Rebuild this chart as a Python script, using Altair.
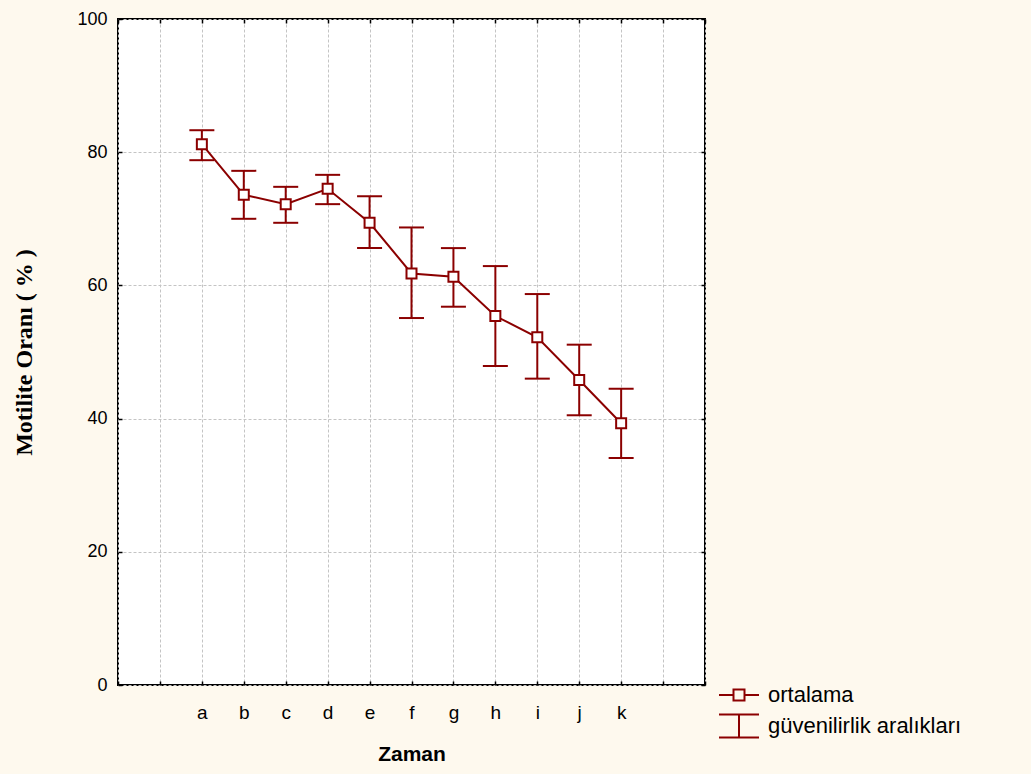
import json
import altair as alt
import pandas as pd

# ---- data ----
categories = ["a", "b", "c", "d", "e", "f", "g", "h", "i", "j", "k"]
means = [81.2, 73.6, 72.2, 74.5, 69.4, 61.8, 61.3, 55.4, 52.2, 45.8, 39.3]
upper = [83.3, 77.2, 74.8, 76.6, 73.4, 68.7, 65.6, 62.9, 58.7, 51.1, 44.5]
lower = [78.8, 70.0, 69.4, 72.2, 65.6, 55.1, 56.8, 47.9, 46.0, 40.5, 34.1]
legend_labels = ["ortalama", "güvenilirlik aralıkları"]
y_ticks = [0, 20, 40, 60, 80, 100]

RED = "#8B0000"
BG = "#FEF9EE"
SANS = "Liberation Sans"

first_pos = 2
x_ticks = list(range(0, len(categories) + 2 * first_pos))
df = pd.DataFrame({
    "pos": [i + first_pos for i in range(len(categories))],
    "cat": categories,
    "mean": means,
    "upper": upper,
    "lower": lower,
})

label_expr = (
    f"datum.value >= {first_pos} && datum.value <= {first_pos + len(categories) - 1} ? "
    f"{json.dumps(categories)}[datum.value - {first_pos}] : ''"
)

x_scale = alt.Scale(domain=[x_ticks[0], x_ticks[-1]], nice=False, zero=False)
y_scale = alt.Scale(domain=[0, 100], nice=False)

x_main_axis = alt.Axis(
    orient="bottom", values=x_ticks, labelExpr=label_expr, title="Zaman",
    grid=True, gridColor="#c4c4c4", gridDash=[3, 2], gridWidth=1,
    domain=False, ticks=True, tickSize=4, tickColor="black", tickWidth=1.5, offset=-4,
    labelFont=SANS, labelFontSize=19, labelColor="black", labelPadding=33,
    labelBaseline="alphabetic", labelAngle=0,
    titleFont=SANS, titleFontSize=21, titleFontWeight="bold", titleColor="black",
    titleBaseline="alphabetic", titleX=293.5, titleY=79, titleAlign="center",
)
y_main_axis = alt.Axis(
    orient="left", values=y_ticks, title="Motilite Oranı ( % )",
    grid=True, gridColor="#c4c4c4", gridDash=[3, 2], gridWidth=1,
    domain=False, ticks=True, tickSize=4, tickColor="black", tickWidth=1.5, offset=-4,
    labelFont=SANS, labelFontSize=18, labelColor="black", labelPadding=11,
    titleFont="Liberation Serif", titleFontSize=24, titleFontWeight="bold", titleColor="black",
    titleAngle=270, titleAlign="center", titleBaseline="alphabetic", titleX=-91, titleY=333,
)
x_top_axis = alt.Axis(
    orient="top", values=x_ticks, labels=False, title=None, grid=False, domain=False,
    ticks=True, tickSize=4, tickColor="black", tickWidth=1.5, offset=-4,
)
y_right_axis = alt.Axis(
    orient="right", values=y_ticks, labels=False, title=None, grid=False, domain=False,
    ticks=True, tickSize=4, tickColor="black", tickWidth=1.5, offset=-4,
)

base = alt.Chart(df)

line = base.mark_line(color=RED, strokeWidth=2).encode(
    x=alt.X("pos:Q", scale=x_scale, axis=x_main_axis),
    y=alt.Y("mean:Q", scale=y_scale, axis=y_main_axis),
)

stems = base.mark_rule(color=RED, strokeWidth=2).encode(
    x=alt.X("pos:Q", scale=x_scale, axis=None),
    y=alt.Y("lower:Q", scale=y_scale, axis=None),
    y2="upper:Q",
)
cap_hi = base.mark_tick(color=RED, orient="horizontal", size=25, thickness=2, opacity=1).encode(
    x=alt.X("pos:Q", scale=x_scale, axis=None),
    y=alt.Y("upper:Q", scale=y_scale, axis=None),
)
cap_lo = base.mark_tick(color=RED, orient="horizontal", size=25, thickness=2, opacity=1).encode(
    x=alt.X("pos:Q", scale=x_scale, axis=None),
    y=alt.Y("lower:Q", scale=y_scale, axis=None),
)
points = base.mark_point(
    shape="square", size=100, filled=True, fill="white", stroke=RED, strokeWidth=2, opacity=1
).encode(
    x=alt.X("pos:Q", scale=x_scale, axis=x_top_axis),
    y=alt.Y("mean:Q", scale=y_scale, axis=y_right_axis),
)

# legend carried by an invisible layer with custom symbol paths
mean_symbol = "M-2,0H-0.55M0.55,0H2M-0.55,-0.55H0.55V0.55H-0.55Z"
ci_symbol = "M-2,-1.15H2M-2,1.15H2M0,-1.15V1.15"
legend_df = pd.DataFrame({"series": legend_labels})
legend_layer = alt.Chart(legend_df).mark_point(color=RED, opacity=0, filled=False).encode(
    shape=alt.Shape(
        "series:N",
        scale=alt.Scale(domain=legend_labels, range=[mean_symbol, ci_symbol]),
        legend=alt.Legend(
            title=None, orient="none", legendX=610, legendY=665, padding=0,
            symbolSize=400, symbolStrokeWidth=2, symbolStrokeColor=RED,
            symbolFillColor="transparent", symbolOpacity=1,
            labelFont=SANS, labelFontSize=22, labelColor="black", labelLimit=0,
            labelOffset=18, rowPadding=4, labelBaseline="middle",
        ),
    )
)

chart = (
    alt.layer(line, stems, cap_hi, cap_lo, points, legend_layer)
    .resolve_axis(x="independent", y="independent")
    .properties(
        width=587, height=666,
        autosize=alt.AutoSizeParams(type="none"),
        padding={"left": 118, "top": 19, "right": 326, "bottom": 89},
        background=BG,
        view=alt.ViewBackground(fill="white", stroke="black", strokeWidth=2),
    )
)

chart.save("out.html", embed_options={"renderer": "svg", "actions": False})
